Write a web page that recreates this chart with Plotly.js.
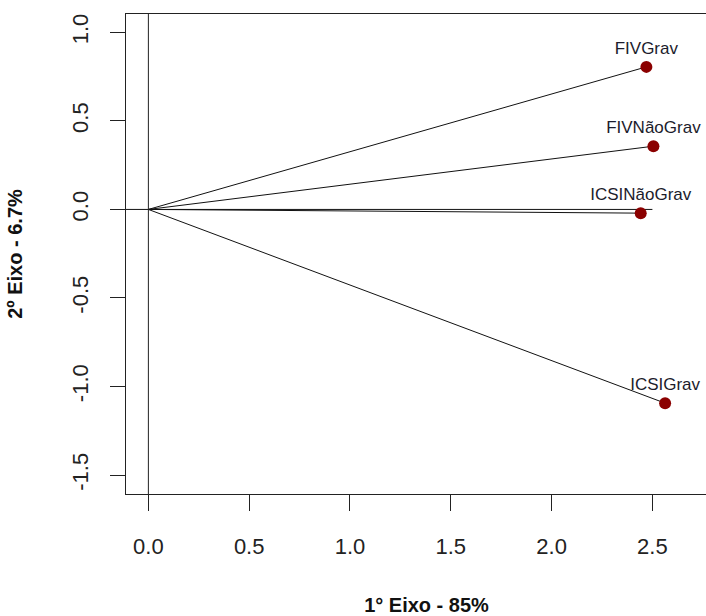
<!DOCTYPE html>
<html>
<head>
<meta charset="utf-8">
<script src="https://cdn.plot.ly/plotly-3.0.1.min.js"></script>
<style>
html,body{margin:0;padding:0;overflow:hidden;background:#fff;width:706px;height:616px;}
#chart{width:740px;height:616px;}
</style>
</head>
<body>
<div id="chart"></div>
<script>
// Data
var labels = ["FIVGrav", "FIVNãoGrav", "ICSINãoGrav", "ICSIGrav"];
var axis1 = [2.47, 2.505, 2.442, 2.563];
var axis2 = [0.805, 0.357, -0.021, -1.094];
var hLineX = [-0.2, 2.5];
var hLineY = [0, 0];
var xTicks = [0, 0.5, 1, 1.5, 2, 2.5];
var xTickText = ["0.0", "0.5", "1.0", "1.5", "2.0", "2.5"];
var yTicks = [-1.5, -1, -0.5, 0, 0.5, 1];
var yTickText = ["-1.5", "-1.0", "-0.5", "0.0", "0.5", "1.0"];

var segX = [], segY = [];
for (var i = 0; i < labels.length; i++) {
  segX.push(0, axis1[i], null);
  segY.push(0, axis2[i], null);
}

var traces = [
  {x: hLineX, y: hLineY, mode: "lines", line: {color: "#111", width: 1}, hoverinfo: "skip"},
  {x: segX, y: segY, mode: "lines", line: {color: "#111", width: 1}, hoverinfo: "skip"},
  {x: axis1, y: axis2, mode: "markers+text", text: labels, textposition: "top center",
   textfont: {family: "Liberation Sans, Arial, sans-serif", size: 17, color: "#1c1c2c"},
   marker: {color: "#8B0000", size: 12}, cliponaxis: false}
];

var tickFont = {family: "Liberation Sans, Arial, sans-serif", size: 22, color: "#222"};
var titleFont = {family: "Liberation Sans, Arial, sans-serif", size: 20, color: "#111", weight: "bold"};

var layout = {
  width: 740, height: 616,
  margin: {l: 126, r: 13, t: 14, b: 122},
  paper_bgcolor: "#fff", plot_bgcolor: "#fff",
  showlegend: false,
  font: {family: "Liberation Sans, Arial, sans-serif"},
  xaxis: {
    range: [-0.111, 2.87], showgrid: false, zeroline: false,
    showline: true, mirror: true, linecolor: "#222", linewidth: 1,
    ticks: "outside", ticklen: 16, tickcolor: "#222", tickwidth: 1,
    tickvals: xTicks, ticktext: xTickText, tickfont: tickFont,
    ticklabelstandoff: 17,
    title: {text: "1° Eixo - 85%", font: titleFont, standoff: 40}
  },
  yaxis: {
    range: [-1.607, 1.1036], showgrid: false, zeroline: false,
    showline: true, mirror: true, linecolor: "#222", linewidth: 1,
    ticks: "outside", ticklen: 15, tickcolor: "#222", tickwidth: 1,
    tickvals: yTicks, ticktext: yTickText, tickfont: tickFont, tickangle: -90,
    ticklabelstandoff: 13,
    title: {text: "2º Eixo - 6.7%", font: titleFont, standoff: 40}
  },
  shapes: [
    {type: "line", xref: "x", yref: "paper", x0: 0, x1: 0, y0: 0, y1: 1, line: {color: "#222", width: 1}}
  ]
};

Plotly.newPlot("chart", traces, layout, {displayModeBar: false, staticPlot: true});
</script>
</body>
</html>
